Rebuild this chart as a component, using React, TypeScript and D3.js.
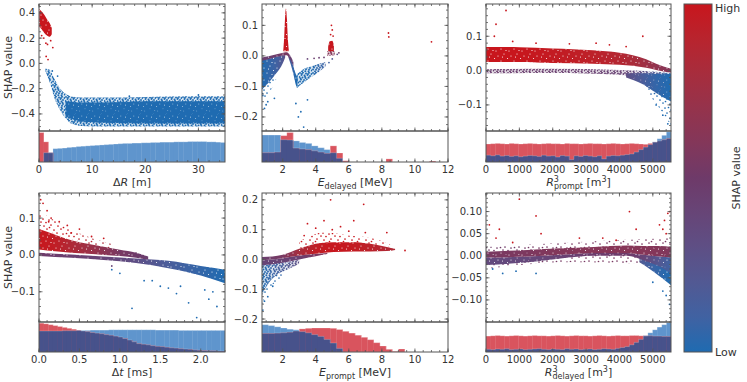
import React from "react";
import * as d3 from "d3";

// ---------- scatter data: dense clouds as [x, lo, hi, colour] and sparse points as [x, y, colour] ----------
// colour: 0 = low (blue) .. 1 = high (red)

// ΔR
const dRRedCore = [[0.05, 0.29, 0.43, 1], [0.5, 0.27, 0.41, 1], [1.0, 0.24, 0.385, 1], [1.5, 0.22, 0.35, 1], [2.0, 0.21, 0.32, 1], [2.4, 0.23, 0.28, 1]];
const dRBlueOuter = [[1.2, -0.06, -0.04, 0], [2, -0.15, -0.05, 0], [3, -0.285, -0.13, 0], [4, -0.37, -0.2, 0], [5, -0.435, -0.24, 0], [6, -0.475, -0.26, 0], [8, -0.495, -0.27, 0], [12, -0.5, -0.27, 0], [20, -0.5, -0.265, 0], [28, -0.5, -0.26, 0], [35, -0.5, -0.26, 0]];
const dRBlueCore = [[5, -0.42, -0.3, 0], [8, -0.46, -0.31, 0], [12, -0.47, -0.31, 0], [20, -0.475, -0.3, 0], [28, -0.475, -0.3, 0], [35, -0.475, -0.3, 0]];
const dRPoints = [[0.9, 0.2, 1], [1.3, 0.16, 1], [1.6, 0.15, 1], [2.6, 0.125, 1], [1.35, 0.055, 1], [1.7, 0.03, 1], [0.5, 0.22, 1], [2.2, 0.18, 1], [2.5, -0.06, 0], [3.5, -0.1, 0], [17, -0.26, 0], [30, -0.25, 0]];

// E delayed
const edRedSpike = [[2.04, 0.015, 0.02, 1], [2.1, 0.015, 0.07, 1], [2.15, 0.015, 0.13, 1], [2.2, 0.015, 0.155, 1], [2.26, 0.015, 0.12, 1], [2.31, 0.015, 0.06, 1], [2.37, 0.015, 0.02, 1]];
const edPurpleArc = [[0.75, -0.016, -0.005, 0.45], [1.2, -0.01, 0.0, 0.45], [1.7, -0.003, 0.006, 0.5], [2.1, 0.002, 0.011, 0.55], [2.25, 0.002, 0.012, 0.55], [2.45, -0.012, 0.002, 0.45], [2.65, -0.035, -0.02, 0.35]];
const edBlueLeft = [[0.75, -0.11, -0.014, 0], [1.2, -0.085, -0.009, 0.05], [1.6, -0.058, -0.003, 0.1], [2.0, -0.025, 0.002, 0.2], [2.15, -0.005, 0.003, 0.3]];
const edBlueSparse = [[0.75, -0.15, -0.1, 0], [1.2, -0.12, -0.08, 0], [1.6, -0.08, -0.05, 0]];
const edBlueArm = [[2.35, -0.005, 0.005, 0.2], [2.5, -0.03, -0.01, 0.1], [2.65, -0.06, -0.035, 0.05], [2.8, -0.095, -0.06, 0], [2.9, -0.105, -0.07, 0]];
const edBlueFan = [[2.85, -0.105, -0.06, 0], [3.2, -0.09, -0.045, 0], [3.8, -0.067, -0.033, 0], [4.25, -0.05, -0.025, 0.05], [4.6, -0.035, -0.02, 0.1]];
const edRed5 = [[4.75, 0.017, 0.03, 0.95], [4.85, 0.015, 0.048, 1], [5.0, 0.015, 0.05, 1], [5.1, 0.017, 0.035, 0.95]];
const edPurple5 = [[4.7, 0.0, 0.016, 0.6], [5.15, 0.002, 0.016, 0.6]];
const edPoints = [[8.4, 0.075, 1], [8.42, 0.062, 1], [11, 0.046, 1], [4.95, 0.1, 1], [5.0, 0.085, 1], [4.9, 0.07, 1], [5.05, 0.065, 1], [0.9, -0.172, 0], [1.1, -0.15, 0], [1.5, -0.139, 0], [2.8, -0.156, 0], [3.1, -0.183, 0], [3.5, -0.144, 0], [2.95, -0.2, 0], [3.27, -0.233, 0], [1.0, -0.16, 0], [0.8, -0.13, 0], [4.8, -0.022, 0.1], [5.3, 0.005, 0.3], [5.0, -0.01, 0.2], [3.9, -0.008, 0.45], [4.2, -0.006, 0.45], [4.5, -0.005, 0.45], [3.5, -0.01, 0.4], [5.4, 0.01, 0.5]];

// R3 prompt
const rpRed = [[0, 0.025, 0.069, 1], [1000, 0.025, 0.068, 1], [2000, 0.022, 0.064, 0.97], [3200, 0.02, 0.059, 0.93], [4000, 0.017, 0.052, 0.88], [4400, 0.014, 0.045, 0.82], [4800, 0.008, 0.033, 0.75], [5100, 0.002, 0.02, 0.68], [5545, -0.006, 0.005, 0.6]];
const rpPurple = [[0, -0.008, 0.004, 0.45], [2000, -0.007, 0.005, 0.45], [4000, -0.012, 0.002, 0.42], [4500, -0.025, 0.0, 0.35], [5000, -0.05, -0.003, 0.2], [5545, -0.085, -0.008, 0.05]];
const rpBlue = [[4200, -0.02, -0.008, 0.3], [4700, -0.04, -0.008, 0.15], [5100, -0.065, -0.01, 0.05], [5545, -0.09, -0.01, 0]];
const rpBlueSparse = [[4800, -0.06, -0.03, 0.05], [5200, -0.11, -0.05, 0], [5545, -0.16, -0.08, 0]];
const rpPoints = [[600, 0.175, 1], [300, 0.135, 1], [250, 0.1, 1], [4700, 0.1, 1], [1500, 0.08, 1], [2500, 0.078, 1], [3700, 0.075, 1], [800, 0.085, 1], [3300, 0.08, 1], [4200, 0.07, 1], [5300, -0.13, 0], [5450, -0.155, 0], [5100, -0.1, 0]];

// Δt
const dtRed = [[0, 0.015, 0.07, 1], [0.2, 0.01, 0.055, 0.95], [0.4, 0.006, 0.04, 0.85], [0.6, 0.003, 0.03, 0.75], [0.8, 0.0, 0.022, 0.65], [1.0, -0.003, 0.014, 0.55], [1.2, -0.008, 0.006, 0.5], [1.35, -0.013, -0.004, 0.45]];
const dtRedSparse = [[0, 0.07, 0.12, 1], [0.3, 0.05, 0.08, 1], [0.6, 0.03, 0.05, 0.9], [0.9, 0.015, 0.03, 0.8]];
const dtLower = [[0, -0.003, 0.006, 0.5], [0.4, -0.008, 0.001, 0.45], [0.8, -0.014, -0.004, 0.4], [1.2, -0.022, -0.01, 0.3], [1.6, -0.036, -0.016, 0.15], [2.0, -0.056, -0.03, 0.05], [2.3, -0.077, -0.04, 0]];
const dtPoints = [[0.02, 0.15, 1], [0.05, 0.14, 1], [0.1, 0.12, 1], [0.15, 0.1, 1], [0.25, 0.09, 1], [0.35, 0.08, 1], [0.5, 0.07, 1], [0.65, 0.05, 1], [0.8, 0.045, 1], [0.12, 0.09, 1], [0.4, 0.06, 1], [1.15, -0.145, 0], [1.4, -0.07, 0], [1.5, -0.085, 0], [1.6, -0.09, 0], [1.75, -0.085, 0], [1.85, -0.13, 0], [1.95, -0.17, 0], [2.1, -0.12, 0], [2.2, -0.14, 0], [2.15, -0.1, 0], [1.3, -0.07, 0], [1.0, -0.05, 0], [0.9, -0.04, 0], [1.7, -0.105, 0], [2.05, -0.095, 0], [1.0, 0.01, 0.5], [1.2, 0.005, 0.5], [0.9, -0.03, 0.4]];

// E prompt
const epUpper = [[0.75, -0.003, 0.008, 0.45], [2, 0.004, 0.016, 0.55], [3, 0.013, 0.036, 0.8], [4, 0.019, 0.053, 0.95], [5.1, 0.025, 0.058, 1], [6.3, 0.027, 0.058, 0.97], [7.3, 0.027, 0.053, 0.92], [8.3, 0.028, 0.042, 0.86], [8.8, 0.032, 0.036, 0.85]];
const epLower = [[0.75, -0.02, -0.003, 0.4], [2, -0.011, 0.004, 0.42], [3, 0.0, 0.013, 0.45], [4, 0.011, 0.019, 0.55], [4.7, 0.018, 0.022, 0.6]];
const epBlue = [[0.75, -0.12, -0.02, 0], [1.2, -0.076, -0.015, 0.05], [1.6, -0.054, -0.012, 0.1], [2.4, -0.031, -0.008, 0.2], [3, -0.015, 0.0, 0.3]];
const epBlueSparse = [[0.75, -0.15, -0.1, 0], [1.2, -0.1, -0.06, 0], [2, -0.06, -0.035, 0.05]];
const epRedSparse = [[3, 0.036, 0.06, 1], [4.5, 0.05, 0.09, 1], [6, 0.055, 0.08, 1], [7.5, 0.05, 0.07, 1], [8.5, 0.04, 0.05, 1]];
const epPoints = [[4.9, 0.2, 1], [6.9, 0.185, 1], [3.5, 0.12, 1], [4.5, 0.13, 1], [6.3, 0.13, 1], [5.5, 0.11, 1], [4.0, 0.105, 1], [8.3, 0.09, 1], [9.4, 0.03, 1], [5.0, 0.1, 1], [7.0, 0.09, 1], [3.3, 0.08, 1], [6.0, 0.095, 1], [0.8, -0.17, 0], [0.9, -0.14, 0], [1.1, -0.125, 0], [1.4, -0.09, 0]];

// R3 delayed
const rdTop = [[0, -0.004, 0.009, 0.55], [1242, -0.002, 0.013, 0.57], [2236, 0.002, 0.017, 0.6], [3230, 0.006, 0.02, 0.62], [4223, 0.006, 0.023, 0.62], [4720, 0.002, 0.022, 0.62], [5217, -0.002, 0.022, 0.6], [5545, -0.004, 0.02, 0.58]];
const rdBottom = [[0, -0.021, -0.004, 0.35], [1242, -0.015, -0.002, 0.37], [2236, -0.006, 0.002, 0.42], [3230, 0.0, 0.006, 0.48], [4223, 0.0, 0.006, 0.5], [4720, -0.01, 0.002, 0.4], [5217, -0.025, -0.002, 0.2], [5545, -0.04, -0.004, 0.1]];
const rdBlue = [[4600, -0.015, -0.005, 0.2], [5000, -0.035, -0.01, 0.08], [5545, -0.067, -0.02, 0]];
const rdSparse = [[0, -0.03, 0.02, 0.5], [2500, -0.015, 0.03, 0.55], [5545, -0.02, 0.04, 0.55]];
const rdPoints = [[1000, 0.128, 1], [1500, 0.09, 1], [1650, 0.05, 1], [100, 0.07, 1], [400, 0.06, 1], [5200, 0.07, 1], [5350, 0.08, 1], [5450, 0.096, 1], [5500, 0.1, 1], [5300, 0.06, 1], [4500, 0.06, 1], [2800, 0.04, 1], [3500, 0.04, 1], [300, 0.04, 1], [4300, 0.1, 1], [5400, 0.05, 1], [3900, 0.035, 1], [800, 0.03, 1], [200, -0.03, 0], [500, -0.04, 0], [900, -0.035, 0], [1500, -0.04, 0], [5400, -0.09, 0], [5500, -0.11, 0], [5300, -0.08, 0], [5000, -0.06, 0]];

// ---------- histograms (relative counts, equal bins over the x range) ----------
const dRHistBlue = [0, 30, 30, 43, 44, 45, 47, 48, 50, 51, 52, 53, 54, 55, 56, 57, 58, 59, 60, 60, 61, 61, 62, 62, 63, 63, 64, 64, 64, 65, 65, 65, 66, 66, 66, 66, 65, 65, 64, 63];
const dRHistRed = [95, 65, 30, 0, 0, 0, 0, 0, 0, 0, 0, 0, 0, 0, 0, 0, 0, 0, 0, 0, 0, 0, 0, 0, 0, 0, 0, 0, 0, 0, 0, 0, 0, 0, 0, 0, 0, 0, 0, 0];
const edHistBlue = [87, 87, 87, 72, 71, 68, 63, 60, 52, 46, 40, 30, 12, 0, 0, 0, 0, 0, 0, 0, 0, 0, 0, 0, 0, 0, 0, 0, 0, 0];
const edHistRed = [30, 30, 32, 85, 95, 45, 42, 40, 36, 32, 28, 52, 29, 4, 0, 0, 0, 0, 0, 0, 10, 0, 0, 0, 0, 0, 0, 3, 0, 0];
const rpHistBlue = [22, 20, 23, 19, 21, 18, 20, 17, 19, 21, 20, 18, 22, 19, 20, 16, 21, 19, 8, 20, 18, 21, 19, 17, 20, 10, 19, 21, 20, 22, 24, 26, 32, 40, 48, 56, 65, 75, 86, 97];
const rpHistRed = [58, 59, 60, 59, 58, 60, 59, 58, 59, 60, 59, 58, 59, 60, 59, 59, 58, 60, 59, 59, 58, 59, 60, 59, 59, 58, 59, 60, 59, 58, 59, 60, 59, 58, 57, 60, 64, 68, 72, 76];
const dtHistBlue = [70, 70, 70, 70, 70, 71, 71, 71, 72, 72, 72, 73, 73, 73, 73, 74, 74, 74, 74, 74, 74, 74, 74, 74, 74, 73, 73, 73, 73, 73, 72, 72, 72, 72, 72, 72, 72, 72, 72, 72];
const dtHistRed = [96, 94, 91, 88, 85, 82, 79, 76, 73, 70, 68, 65, 63, 61, 58, 56, 53, 50, 45, 40, 34, 28, 26, 24, 21, 19, 18, 16, 14, 13, 11, 10, 9, 7, 6, 5, 4, 4, 3, 3];
const epHistBlue = [91, 88, 84, 80, 76, 74, 68, 64, 58, 52, 42, 30, 12, 0, 0, 0, 0, 0, 0, 0, 0, 0, 0, 0, 0, 0, 0, 0, 0, 0];
const epHistRed = [62, 62, 63, 64, 66, 70, 77, 79, 80, 80, 80, 79, 75, 69, 63, 56, 49, 41, 31, 20, 9, 2, 10, 0, 0, 0, 0, 0, 0, 0];
const rdHistBlue = [9, 8, 10, 9, 11, 8, 9, 10, 8, 9, 10, 11, 9, 8, 10, 9, 8, 11, 9, 10, 8, 9, 10, 8, 9, 11, 10, 9, 12, 15, 18, 24, 32, 42, 54, 64, 74, 83, 91, 98];
const rdHistRed = [53, 54, 55, 54, 53, 54, 55, 54, 53, 54, 55, 54, 54, 53, 54, 55, 54, 53, 54, 55, 54, 54, 53, 54, 55, 54, 53, 54, 55, 54, 54, 55, 55, 54, 54, 54, 53, 53, 52, 52];

// ---------- styling ----------
const cmap = d3.scaleLinear<string>().domain([0, 0.5, 1]).range(["#1f6bb1", "#6e3a69", "#c8161d"]).interpolate(d3.interpolateLab);
const FONT = "DejaVu Sans";
const AX = "#555";
const TXT = "#333";
const HB = "#5f95cd", HR = "#d9545e", HN = "#47528b";

const cols = [[39, 225], [262, 448], [486, 671]];
const rows = [{ top: 4, mid: 131, bot: 162 }, { top: 193, mid: 322, bot: 352 }];

const minus = (s: string) => s.replace("-", "\u2212");
const f0 = (d: number) => minus(d3.format("d")(d));
const f1 = (d: number) => minus(d3.format(".1f")(d));
const f2 = (d: number) => minus(d3.format(".2f")(d));

const sub = (t: string) => <tspan fontSize={8} dy={2.5}>{t}</tspan>;

// texture: "d" dense, "m" medium, "s" sparse
const panels = [
  {
    col: 0, row: 0, xd: [0, 35], yd: [-0.535, 0.47], xt: [0, 10, 20, 30], xm: 2, yt: [-0.4, -0.2, 0, 0.2, 0.4], ym: 0.05, xf: f0, yf: f1,
    bands: [{ d: dRBlueOuter, t: "m" }, { d: dRBlueCore, t: "d" }, { d: dRRedCore, t: "d" }], pts: dRPoints,
    hb: dRHistBlue, hr: dRHistRed, ylab: true,
    label: <><tspan>Δ</tspan><tspan fontStyle="italic">R</tspan><tspan> [m]</tspan></>,
  },
  {
    col: 1, row: 0, xd: [0.75, 12], yd: [-0.246, 0.17], xt: [2, 4, 6, 8, 10, 12], xm: 0.5, yt: [-0.2, -0.1, 0, 0.1], ym: 0.025, xf: f0, yf: f1,
    bands: [{ d: edBlueSparse, t: "s" }, { d: edBlueLeft, t: "d" }, { d: edBlueArm, t: "d" }, { d: edBlueFan, t: "m" }, { d: edPurpleArc, t: "d" }, { d: edPurple5, t: "m" }, { d: edRedSpike, t: "d" }, { d: edRed5, t: "d" }], pts: edPoints,
    hb: edHistBlue, hr: edHistRed, ylab: false,
    label: <><tspan fontStyle="italic">E</tspan>{sub("delayed")}<tspan dy={-2.5}> [MeV]</tspan></>,
  },
  {
    col: 2, row: 0, xd: [0, 5545], yd: [-0.176, 0.194], xt: [0, 1000, 2000, 3000, 4000, 5000], xm: 200, yt: [-0.1, 0, 0.1], ym: 0.02, xf: f0, yf: f1,
    bands: [{ d: rpBlueSparse, t: "s" }, { d: rpPurple, t: "m" }, { d: rpBlue, t: "d" }, { d: rpRed, t: "d" }], pts: rpPoints,
    hb: rpHistBlue, hr: rpHistRed, ylab: false,
    label: <><tspan fontStyle="italic">R</tspan><tspan fontSize={8} dy={-4.5}>3</tspan><tspan fontSize={8} dx={-5} dy={7.5}>prompt</tspan><tspan dy={-3}> [m</tspan><tspan fontSize={8} dy={-4.5}>3</tspan><tspan dy={4.5}>]</tspan></>,
  },
  {
    col: 0, row: 1, xd: [0, 2.3], yd: [-0.182, 0.168], xt: [0, 0.5, 1, 1.5, 2], xm: 0.1, yt: [-0.1, 0, 0.1], ym: 0.02, xf: f1, yf: f1,
    bands: [{ d: dtRedSparse, t: "s" }, { d: dtLower, t: "d" }, { d: dtRed, t: "d" }], pts: dtPoints,
    hb: dtHistBlue, hr: dtHistRed, ylab: true,
    label: <><tspan>Δ</tspan><tspan fontStyle="italic">t</tspan><tspan> [ms]</tspan></>,
  },
  {
    col: 1, row: 1, xd: [0.75, 12], yd: [-0.21, 0.223], xt: [2, 4, 6, 8, 10, 12], xm: 0.5, yt: [-0.2, -0.1, 0, 0.1, 0.2], ym: 0.025, xf: f0, yf: f1,
    bands: [{ d: epBlueSparse, t: "s" }, { d: epRedSparse, t: "s" }, { d: epBlue, t: "m" }, { d: epLower, t: "d" }, { d: epUpper, t: "d" }], pts: epPoints,
    hb: epHistBlue, hr: epHistRed, ylab: false,
    label: <><tspan fontStyle="italic">E</tspan>{sub("prompt")}<tspan dy={-2.5}> [MeV]</tspan></>,
  },
  {
    col: 2, row: 1, xd: [0, 5545], yd: [-0.15, 0.142], xt: [0, 1000, 2000, 3000, 4000, 5000], xm: 200, yt: [-0.1, -0.05, 0, 0.05, 0.1], ym: 0.01, xf: f0, yf: f2,
    bands: [{ d: rdSparse, t: "s" }, { d: rdBlue, t: "d" }, { d: rdBottom, t: "d" }, { d: rdTop, t: "d" }], pts: rdPoints,
    hb: rdHistBlue, hr: rdHistRed, ylab: false,
    label: <><tspan fontStyle="italic">R</tspan><tspan fontSize={8} dy={-4.5}>3</tspan><tspan fontSize={8} dx={-5} dy={7.5}>delayed</tspan><tspan dy={-3}> [m</tspan><tspan fontSize={8} dy={-4.5}>3</tspan><tspan dy={4.5}>]</tspan></>,
  },
];

const minorTicks = (d: number[], step: number) => {
  const out: number[] = [];
  for (let k = Math.ceil(d[0] / step - 1e-9); k * step <= d[1] + 1e-9; k++) out.push(k * step);
  return out;
};

function Panel({ p, i }: { p: any; i: number }) {
  const [x0, x1] = cols[p.col];
  const r = rows[p.row];
  const x = d3.scaleLinear().domain(p.xd).range([x0, x1]);
  const y = d3.scaleLinear().domain(p.yd).range([r.mid, r.top]);
  const hy = d3.scaleLinear().domain([0, 100]).range([r.bot, r.mid]);
  const area = d3.area<number[]>().x(d => x(d[0])).y0(d => y(d[1])).y1(d => y(d[2])).curve(d3.curveMonotoneX);

  const n = p.hb.length;
  const edges = d3.range(n + 1).map(k => p.xd[0] + (k * (p.xd[1] - p.xd[0])) / n);
  const step = (vals: number[]) =>
    d3.line<number>().x((_, k) => x(edges[Math.min(k, n)])).y((_, k) => hy(vals[Math.min(k, n - 1)])).curve(d3.curveStepAfter)([...vals, 0]);
  const overlap = p.hb.map((v: number, k: number) => Math.min(v, p.hr[k]));

  const xMinor = minorTicks(p.xd, p.xm);
  const yMinor = minorTicks(p.yd, p.ym);
  const clip = `clip-${i}`;
  const hclip = `hclip-${i}`;

  return (
    <g>
      <defs>
        <clipPath id={clip}><rect x={x0} y={r.top} width={x1 - x0} height={r.mid - r.top} /></clipPath>
        <clipPath id={hclip}><rect x={x0} y={r.mid} width={x1 - x0} height={r.bot - r.mid} /></clipPath>
        {p.bands.map((b: any, bi: number) => {
          const xa = x(b.d[0][0]), xb = x(b.d[b.d.length - 1][0]);
          return (
            <linearGradient key={bi} id={`g-${i}-${bi}`} gradientUnits="userSpaceOnUse" x1={xa} x2={xb} y1={0} y2={0}>
              {b.d.map((d: number[], k: number) => (
                <stop key={k} offset={(x(d[0]) - xa) / (xb - xa || 1)} stopColor={cmap(d[3])} />
              ))}
            </linearGradient>
          );
        })}
      </defs>

      {/* scatter */}
      <g clipPath={`url(#${clip})`}>
        {p.bands.map((b: any, bi: number) => (
          <path key={bi} d={area(b.d) || ""} fill={`url(#g-${i}-${bi})`} mask={`url(#tex-${b.t})`} />
        ))}
        {p.pts.map((d: number[], k: number) => (
          <circle key={k} cx={x(d[0])} cy={y(d[1])} r={0.9} fill={cmap(d[2])} />
        ))}
      </g>

      {/* histogram */}
      <g clipPath={`url(#${hclip})`}>
        {p.hb.map((v: number, k: number) => (
          <rect key={"b" + k} x={x(edges[k])} width={x(edges[k + 1]) - x(edges[k]) + 0.3} y={hy(v)} height={r.bot - hy(v)} fill={HB} />
        ))}
        {p.hr.map((v: number, k: number) => (
          <rect key={"r" + k} x={x(edges[k])} width={x(edges[k + 1]) - x(edges[k]) + 0.3} y={hy(v)} height={r.bot - hy(v)} fill={HR} />
        ))}
        {overlap.map((v: number, k: number) => (
          <rect key={"n" + k} x={x(edges[k])} width={x(edges[k + 1]) - x(edges[k]) + 0.3} y={hy(v)} height={r.bot - hy(v)} fill={HN} />
        ))}
        <path d={step(p.hb) || ""} fill="none" stroke="#fff" strokeOpacity={0.3} strokeWidth={0.7} />
        <path d={step(p.hr) || ""} fill="none" stroke="#fff" strokeOpacity={0.3} strokeWidth={0.7} />
      </g>

      {/* ticks */}
      <g stroke={AX} strokeWidth={0.8}>
        {xMinor.map((v, k) => (
          <g key={"xm" + k}>
            <line x1={x(v)} x2={x(v)} y1={r.top} y2={r.top + 2} />
            <line x1={x(v)} x2={x(v)} y1={r.mid} y2={r.mid - 2} />
            <line x1={x(v)} x2={x(v)} y1={r.bot} y2={r.bot - 2} />
          </g>
        ))}
        {p.xt.map((v: number, k: number) => (
          <g key={"xt" + k}>
            <line x1={x(v)} x2={x(v)} y1={r.top} y2={r.top + 3.5} />
            <line x1={x(v)} x2={x(v)} y1={r.mid} y2={r.mid - 3.5} />
            <line x1={x(v)} x2={x(v)} y1={r.bot} y2={r.bot - 3.5} />
          </g>
        ))}
        {yMinor.map((v, k) => (
          <g key={"ym" + k}>
            <line x1={x0} x2={x0 + 2} y1={y(v)} y2={y(v)} />
            <line x1={x1} x2={x1 - 2} y1={y(v)} y2={y(v)} />
          </g>
        ))}
        {p.yt.map((v: number, k: number) => (
          <g key={"yt" + k}>
            <line x1={x0} x2={x0 + 3.5} y1={y(v)} y2={y(v)} />
            <line x1={x1} x2={x1 - 3.5} y1={y(v)} y2={y(v)} />
          </g>
        ))}
      </g>

      {/* frames */}
      <rect x={x0} y={r.top} width={x1 - x0} height={r.mid - r.top} fill="none" stroke={AX} strokeWidth={1} />
      <rect x={x0} y={r.mid} width={x1 - x0} height={r.bot - r.mid} fill="none" stroke={AX} strokeWidth={1} />

      {/* labels */}
      <g fontFamily={FONT} fontSize={10} fill={TXT}>
        {p.xt.map((v: number, k: number) => (
          <text key={k} x={x(v)} y={r.bot + 10.5} textAnchor="middle">{p.xf(v)}</text>
        ))}
        {p.yt.map((v: number, k: number) => (
          <text key={k} x={x0 - 4} y={y(v)} dy="0.35em" textAnchor="end">{p.yf(v)}</text>
        ))}
      </g>
      <text x={(x0 + x1) / 2} y={r.bot + 24} textAnchor="middle" fontFamily={FONT} fontSize={11} fill={TXT}>{p.label}</text>
      {p.ylab && (
        <text transform={`translate(12,${(r.top + r.mid) / 2}) rotate(-90)`} textAnchor="middle" fontFamily={FONT} fontSize={11} fill={TXT}>SHAP value</text>
      )}
    </g>
  );
}

// speckle textures (fixed, hand-placed dot positions) so filled clouds read as scattered points
const texDenseHoles = [[2, 3], [7, 1], [10, 6], [4, 8], [8.5, 9], [12, 2.5], [0.5, 10.5]];
const texMedium = [[1, 1], [4, 0.5], [7, 1.5], [10, 0.8], [2.5, 3], [5.5, 3.5], [8.5, 3], [11, 4], [0.5, 5], [3.5, 5.5], [6.5, 6], [9.5, 5.5], [2, 7.5], [5, 8], [8, 7.5], [11, 8], [1, 9.5], [4, 9.8], [7, 9.3], [10, 9.7], [3, 1.8], [9, 2], [6, 4.8], [1.5, 6.5], [10.5, 6.8], [12.5, 2], [12.8, 10.5], [6.3, 11.2], [3, 11.5], [9.5, 11.5]];
const texSparse = [[2, 2], [9, 1], [5, 5], [12, 6], [1, 9], [7, 10], [10.5, 9.5], [4, 12.5], [13, 12], [7.5, 3.5]];

function Textures() {
  return (
    <defs>
      <pattern id="pat-d" width={13} height={12} patternUnits="userSpaceOnUse">
        <rect width={13} height={12} fill="#fff" />
        {texDenseHoles.map((c, k) => <circle key={k} cx={c[0]} cy={c[1]} r={0.55} fill="#000" />)}
      </pattern>
      <pattern id="pat-m" width={13} height={12} patternUnits="userSpaceOnUse">
        <rect width={13} height={12} fill="#333" />
        {texMedium.map((c, k) => <circle key={k} cx={c[0]} cy={c[1]} r={0.95} fill="#fff" />)}
      </pattern>
      <pattern id="pat-s" width={14} height={14} patternUnits="userSpaceOnUse">
        <rect width={14} height={14} fill="#000" />
        {texSparse.map((c, k) => <circle key={k} cx={c[0]} cy={c[1]} r={0.85} fill="#fff" />)}
      </pattern>
      {["d", "m", "s"].map(t => (
        <mask key={t} id={`tex-${t}`} maskUnits="userSpaceOnUse" x={0} y={0} width={747} height={382}>
          <rect width={747} height={382} fill={`url(#pat-${t})`} />
        </mask>
      ))}
    </defs>
  );
}

export default function App() {
  const cbX = 684, cbW = 28, cbTop = 4, cbBot = 352;
  const stops = d3.range(0, 1.0001, 0.1);
  return (
    <svg width={747} height={382} style={{ position: "absolute", left: 0, top: 0, background: "#fff" }}>
      <Textures />
      <defs>
        <linearGradient id="cbar" x1="0" x2="0" y1="1" y2="0">
          {stops.map((s, k) => <stop key={k} offset={s} stopColor={cmap(s)} />)}
        </linearGradient>
      </defs>
      {panels.map((p, i) => <Panel key={i} p={p} i={i} />)}
      <rect x={cbX} y={cbTop} width={cbW} height={cbBot - cbTop} fill="url(#cbar)" stroke={AX} strokeWidth={1} />
      <g fontFamily={FONT} fontSize={11} fill={TXT}>
        <text x={cbX + cbW + 3} y={cbTop + 8}>High</text>
        <text x={cbX + cbW + 3} y={cbBot + 4}>Low</text>
        <text transform={`translate(740,${(cbTop + cbBot) / 2}) rotate(-90)`} textAnchor="middle">SHAP value</text>
      </g>
    </svg>
  );
}
